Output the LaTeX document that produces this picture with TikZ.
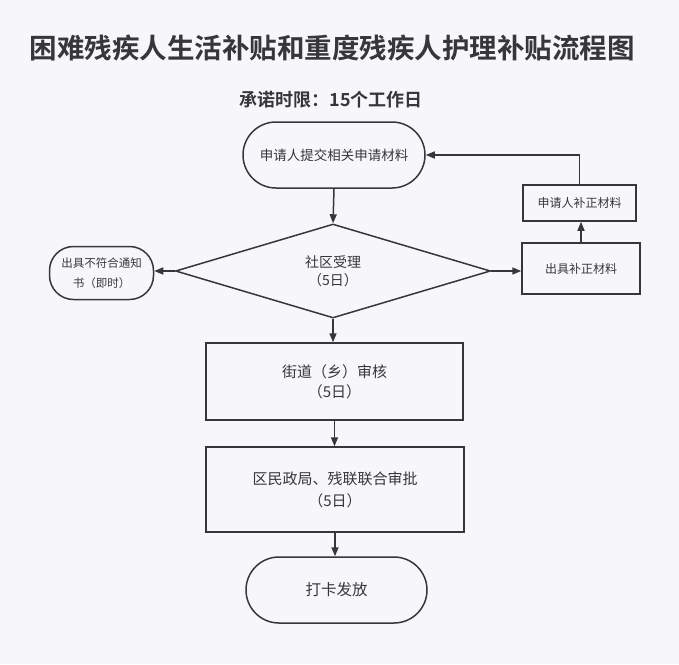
\documentclass[tikz,border=0pt]{standalone}
\usepackage{fontspec}
\setmainfont{Noto Sans CJK SC}[BoldFont={Noto Sans CJK SC Bold}]
\usetikzlibrary{shapes.geometric,arrows.meta}
\definecolor{ink}{RGB}{55,55,58}
\definecolor{paper}{RGB}{247,247,250}
\tikzset{
  box/.style={draw=ink, line width=1.5pt, text=ink, inner sep=0pt, align=center},
  term/.style={box, rounded corners=#1},
  dia/.style={box, diamond},
  arr/.style={draw=ink, line width=1.5pt, -{Triangle[length=9pt,width=7pt]}},
  ln/.style={draw=ink, line width=1.5pt},
}
\begin{document}
\begin{tikzpicture}[x=1pt,y=-1pt]
\fill[paper] (0,0) rectangle (679,664);
\useasboundingbox (0,0) rectangle (679,664);

\node[text=ink, font=\bfseries\fontsize{27.5}{30}\selectfont] (title) at (332,48) {困难残疾人生活补贴和重度残疾人护理补贴流程图};
\node[text=ink, font=\bfseries\fontsize{18}{20}\selectfont] (sub) at (331,100) {承诺时限：15个工作日};

\node[term=33pt, minimum width=182pt, minimum height=66pt, font=\fontsize{13.5}{18}\selectfont] (top) at (334,155) {申请人提交相关申请材料};

\node[dia, minimum width=315pt, minimum height=94pt, font=\fontsize{14}{18}\selectfont] (d) at (333,271) {社区受理\\（5日）};

\node[term=24pt, minimum width=104pt, minimum height=53pt, font=\fontsize{11.5}{20}\selectfont] (no) at (101.5,273) {出具不符合通知\\书（即时）};

\node[box, minimum width=118pt, minimum height=51pt, font=\fontsize{12}{16}\selectfont] (fix) at (581,268.5) {出具补正材料};
\node[box, minimum width=113pt, minimum height=36pt, font=\fontsize{12}{16}\selectfont] (redo) at (579.5,203) {申请人补正材料};

\node[box, minimum width=257pt, minimum height=77pt, font=\fontsize{15}{20}\selectfont] (street) at (334.5,381.5) {街道（乡）审核\\（5日）};
\node[box, minimum width=258pt, minimum height=85pt, font=\fontsize{15}{22}\selectfont] (dist) at (335,489.5) {区民政局、残联联合审批\\（5日）};

\node[term=33pt, minimum width=181pt, minimum height=66pt, font=\fontsize{15.5}{20}\selectfont] (pay) at (336.5,590) {打卡发放};

\draw[arr] (top.south) -- (d.north);
\draw[arr] (d.west) -- (d.west -| no.east);
\draw[arr] (d.east) -- (d.east -| fix.west);
\draw[arr] (fix.north) -- (fix.north |- redo.south);
\draw[arr] (redo.north) |- (top.east);
\draw[arr] (d.south) -- (d.south |- street.north);
\draw[arr] (street.south) -- (street.south |- dist.north);
\draw[arr] (dist.south) -- (dist.south |- pay.north);
\end{tikzpicture}
\end{document}
